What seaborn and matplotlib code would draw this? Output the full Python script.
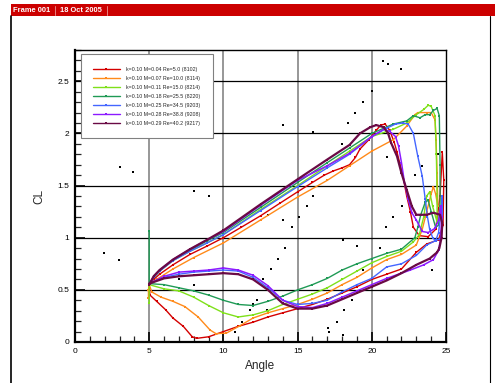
import numpy as np
import pandas as pd
import matplotlib
matplotlib.use("Agg")
import matplotlib.pyplot as plt
import seaborn as sns
from matplotlib.lines import Line2D
from matplotlib.ticker import MultipleLocator, FuncFormatter

# ---------------- data ----------------
labels = [
    "k=0.10 M=0.04 Re=5.0 (8102)",
    "k=0.10 M=0.07 Re=10.0 (8114)",
    "k=0.10 M=0.11 Re=15.0 (8214)",
    "k=0.10 M=0.18 Re=25.5 (8220)",
    "k=0.10 M=0.25 Re=34.5 (9203)",
    "k=0.10 M=0.28 Re=38.8 (9208)",
    "k=0.10 M=0.29 Re=40.2 (9217)",
]

red_angle = [5.0, 5.3, 5.7, 6.6, 7.75, 8.9, 10.0, 11.2, 12.5, 13.8, 15.0, 16.0, 16.8, 17.4, 18.0, 18.5,
             18.9, 19.2, 19.8, 20.3, 20.6, 20.9, 21.2, 21.5, 21.7, 22.1, 22.35, 22.6, 22.8, 23.2, 23.8,
             24.3, 24.6, 24.75, 24.85, 24.8, 24.5, 23.7, 23.0, 22.0, 21.0, 20.0, 19.0, 18.0, 17.0, 16.0,
             15.0, 14.0, 13.0, 12.0, 11.0, 10.0, 9.0, 8.2, 7.9, 7.3, 6.6, 6.1, 5.5, 5.05, 5.0]
red_cl = [0.55, 0.60, 0.65, 0.74, 0.84, 0.92, 1.00, 1.10, 1.21, 1.33, 1.44, 1.53, 1.60, 1.64, 1.67, 1.70,
          1.77, 1.85, 1.94, 2.03, 2.08, 2.09, 2.03, 1.92, 1.82, 1.59, 1.40, 1.25, 1.10, 1.02, 1.01,
          1.08, 1.40, 1.82, 1.55, 1.12, 0.98, 0.94, 0.86, 0.70, 0.65, 0.60, 0.53, 0.47, 0.41, 0.36,
          0.32, 0.28, 0.24, 0.19, 0.15, 0.10, 0.05, 0.035, 0.05, 0.15, 0.23, 0.31, 0.39, 0.45, 0.55]

orange_angle = [4.95, 4.95, 5.0, 5.5, 6.6, 8.0, 10.0, 12.5, 15.0, 17.0, 18.5, 20.0, 21.45, 22.35, 22.9,
                23.1, 23.7, 24.0, 24.26, 24.33, 24.4, 24.45, 24.3, 24.15, 24.0, 23.7, 23.4, 23.0, 22.0,
                21.0, 20.0, 19.0, 18.0, 17.0, 16.0, 15.0, 14.0, 13.0, 12.0, 11.1, 10.2, 9.5, 9.1, 8.3,
                7.4, 6.6, 5.8, 5.17, 5.0]
orange_cl = [0.42, 0.50, 0.55, 0.60, 0.70, 0.81, 0.95, 1.17, 1.39, 1.55, 1.69, 1.83, 1.94, 2.07, 2.18,
             2.20, 2.20, 2.20, 2.13, 1.94, 1.62, 1.30, 1.42, 1.49, 1.42, 1.25, 1.08, 0.93, 0.84,
             0.79, 0.71, 0.62, 0.55, 0.47, 0.41, 0.36, 0.32, 0.28, 0.23, 0.155, 0.085, 0.08, 0.115, 0.24,
             0.34, 0.39, 0.43, 0.48, 0.55]

lime_angle = [5.0, 5.0, 5.3, 5.7, 6.6, 7.75, 8.9, 10.0, 12.5, 15.0, 17.0, 18.5, 20.0, 21.45, 22.35, 23.0,
              23.5, 23.8, 24.0, 24.26, 24.35, 24.4, 24.4, 24.1, 23.9, 23.7, 23.5, 23.2, 22.8, 22.0, 21.0,
              20.0, 19.0, 18.0, 17.0, 16.0, 15.0, 14.0, 13.0, 12.0, 11.0, 10.0, 9.0, 8.0, 7.0, 6.0, 5.0]
lime_cl = [0.37, 0.55, 0.62, 0.68, 0.78, 0.87, 0.95, 1.03, 1.27, 1.50, 1.69, 1.83, 1.97, 2.04, 2.10, 2.18,
           2.23, 2.27, 2.26, 2.17, 1.80, 1.40, 1.15, 1.30, 1.44, 1.40, 1.20, 1.03, 0.96, 0.87, 0.82,
           0.76, 0.68, 0.60, 0.52, 0.46, 0.41, 0.36, 0.30, 0.26, 0.24, 0.28, 0.35, 0.43, 0.49, 0.51, 0.55]

green_angle = [5.0, 5.0, 5.3, 5.7, 6.6, 7.75, 8.9, 10.0, 12.5, 15.0, 17.0, 18.5, 20.0, 21.45, 22.35, 22.8,
               23.25, 23.6, 23.9, 24.15, 24.4, 24.55, 24.6, 24.6, 24.5, 24.3, 24.0, 23.8, 23.6, 23.3,
               23.1, 22.9, 22.0, 21.0, 20.0, 19.0, 18.0, 17.0, 16.0, 15.0, 14.0, 13.0, 12.0, 11.0, 10.0,
               9.0, 8.0, 7.0, 6.0, 5.0]
green_cl = [1.06, 0.56, 0.62, 0.68, 0.79, 0.88, 0.97, 1.05, 1.29, 1.53, 1.72, 1.86, 2.00, 2.09, 2.12, 2.17,
            2.15, 2.18, 2.18, 2.22, 2.24, 2.17, 1.70, 1.30, 1.12, 1.10, 1.25, 1.36, 1.34, 1.22,
            1.10, 1.00, 0.89, 0.85, 0.80, 0.75, 0.69, 0.61, 0.55, 0.50, 0.44, 0.39, 0.35, 0.36, 0.40,
            0.45, 0.49, 0.52, 0.55, 0.56]

blue_angle = [5.0, 5.3, 5.7, 6.6, 7.75, 8.9, 10.0, 12.5, 15.0, 17.0, 18.5, 20.0, 21.0, 21.6, 22.1, 22.45,
              22.8, 23.1, 23.4, 23.6, 23.75, 23.9, 24.1, 24.3, 24.5, 24.7, 24.75, 24.75, 24.6, 24.26,
              23.7, 23.0, 22.0, 21.0, 20.0, 19.0, 18.0, 17.0, 16.0, 15.0, 14.0, 13.0, 12.0, 11.0, 10.0,
              9.0, 8.0, 7.0, 6.0, 5.0]
blue_cl = [0.55, 0.62, 0.68, 0.78, 0.87, 0.95, 1.03, 1.26, 1.49, 1.67, 1.80, 1.97, 2.05, 2.09, 2.10, 2.09,
           2.00, 1.78, 1.59, 1.37, 1.20, 1.08, 1.00, 0.97, 1.05, 1.30, 1.40, 1.10, 0.99, 0.97,
           0.93, 0.83, 0.75, 0.72, 0.61, 0.55, 0.48, 0.40, 0.37, 0.36, 0.40, 0.52, 0.62, 0.68, 0.69,
           0.68, 0.67, 0.65, 0.62, 0.56]

purple_angle = [5.0, 5.3, 5.7, 6.6, 7.75, 8.9, 10.0, 12.5, 15.0, 17.0, 18.5, 20.0, 20.8, 21.2, 21.6, 21.8,
                22.0, 22.2, 22.45, 22.7, 23.0, 23.4, 23.8, 24.26, 24.5, 24.65, 24.7, 24.65, 24.5, 24.15,
                23.5, 22.6, 22.0, 21.0, 20.0, 19.0, 18.0, 17.0, 16.0, 15.0, 14.0, 13.0, 12.0, 11.0, 10.0,
                9.0, 8.0, 7.0, 6.0, 5.0]
purple_cl = [0.55, 0.63, 0.69, 0.79, 0.89, 0.98, 1.06, 1.31, 1.55, 1.69, 1.81, 1.97, 2.04, 2.02, 1.97, 1.88,
             1.72, 1.53, 1.37, 1.24, 1.17, 1.06, 1.05, 1.09, 1.17, 1.30, 1.20, 1.00, 0.88, 0.79,
             0.74, 0.69, 0.66, 0.61, 0.55, 0.49, 0.43, 0.37, 0.33, 0.34, 0.40, 0.54, 0.64, 0.69, 0.71,
             0.69, 0.68, 0.67, 0.63, 0.56]

maroon_angle = [5.0, 5.3, 5.7, 6.6, 7.75, 8.9, 10.0, 12.5, 15.0, 17.0, 18.5, 19.2, 19.9, 20.3, 20.8, 21.1,
                21.3, 21.7, 22.0, 22.35, 22.7, 23.0, 23.25, 23.7, 24.15, 24.6, 24.75, 24.7, 24.55, 24.4,
                23.9, 23.0, 22.0, 21.0, 20.0, 19.0, 18.0, 17.0, 16.0, 15.0, 14.0, 13.0, 12.0, 11.0, 10.0,
                9.0, 8.0, 7.0, 6.0, 5.0]
maroon_cl = [0.55, 0.63, 0.69, 0.79, 0.89, 0.98, 1.07, 1.32, 1.56, 1.75, 1.89, 2.00, 2.06, 2.08, 2.06, 2.00,
             1.91, 1.78, 1.62, 1.46, 1.30, 1.22, 1.22, 1.22, 1.24, 1.22, 1.14, 1.00, 0.90, 0.86,
             0.80, 0.74, 0.66, 0.59, 0.53, 0.47, 0.41, 0.35, 0.32, 0.32, 0.37, 0.50, 0.60, 0.65, 0.66,
             0.65, 0.64, 0.63, 0.61, 0.56]

dot_angle = [1.95, 3.03, 3.91, 2.96, 8.02, 9.03, 14.04, 16.02, 18.87, 18.38, 18.01, 16.06, 15.61, 15.11,
             14.04, 14.60, 13.03, 14.15, 13.70, 13.19, 12.65, 12.28, 11.97, 12.92, 18.08, 19.02, 17.63,
             17.07, 17.14, 18.04, 7.03, 8.02, 11.79, 11.23, 10.78, 19.43, 19.99, 21.0, 22.91, 23.36,
             24.48, 22.01, 21.45, 20.96, 20.55, 19.43, 18.98, 18.13, 24.04, 18.65, 20.75, 21.1, 22.0]
dot_cl = [0.85, 1.68, 1.63, 0.79, 1.45, 1.40, 2.08, 2.01, 2.20, 2.10, 1.90, 1.40, 1.30, 1.20,
          1.17, 1.10, 1.22, 0.90, 0.80, 0.70, 0.60, 0.40, 0.36, 0.31, 0.98, 0.92, 0.195,
          0.13, 0.10, 0.07, 0.60, 0.55, 0.31, 0.195, 0.10, 2.30, 2.41, 1.77, 1.60, 1.69,
          1.80, 1.30, 1.20, 1.10, 0.90, 0.69, 0.55, 0.31, 0.69, 0.40, 2.69, 2.67, 2.62]

series_angle = [red_angle, orange_angle, lime_angle, green_angle, blue_angle, purple_angle, maroon_angle]
series_cl = [red_cl, orange_cl, lime_cl, green_cl, blue_cl, purple_cl, maroon_cl]
colors = ["#d40000", "#ff8a1a", "#7fe01a", "#1f9a55", "#4466ff", "#8c1aff", "#6a0a45"]
widths = [1.0, 1.0, 1.0, 1.0, 1.0, 1.1, 1.6]

# ---------------- figure ----------------
sns.set_theme(style="white")
plt.rcParams["font.family"] = ["Liberation Sans", "DejaVu Sans"]

fig = plt.figure(figsize=(4.95, 3.83), dpi=100)
W, H = 495, 383
ax = fig.add_axes([75 / W, 1 - 342 / H, 371 / W, 292 / H])

for xv in [5, 10, 15, 20]:
    ax.axvline(xv, color="#7a7a7a", lw=1.1, zorder=0.5)
for yv in [0.5, 1.0, 1.5, 2.0, 2.5]:
    ax.axhline(yv, color="black", lw=0.9, zorder=0.5)

sns.scatterplot(x=dot_angle, y=dot_cl, ax=ax, color="black", marker="s", s=1.5, linewidth=0, zorder=1)

for a, c, col, lw in zip(series_angle, series_cl, colors, widths):
    df = pd.DataFrame({"angle": a, "cl": c})
    sns.lineplot(data=df, x="angle", y="cl", sort=False, estimator=None, ax=ax, color=col, lw=lw,
                 marker="s", markersize=1.6, markeredgewidth=0, zorder=2)

ax.set_xlim(0, 25)
ax.set_ylim(0, 2.8)
ax.xaxis.set_major_locator(MultipleLocator(5))
ax.xaxis.set_minor_locator(MultipleLocator(1))
ax.yaxis.set_major_locator(MultipleLocator(0.5))
ax.yaxis.set_minor_locator(MultipleLocator(0.1))
ax.xaxis.set_major_formatter(FuncFormatter(lambda v, p: "%g" % v))
ax.yaxis.set_major_formatter(FuncFormatter(lambda v, p: "%g" % v))
ax.tick_params(which="major", direction="in", length=7, width=1.2, labelsize=6, colors="black",
               left=True, bottom=True, top=False, right=False, pad=4)
ax.tick_params(which="minor", direction="in", length=4, width=0.9, left=True, bottom=True,
               top=False, right=False)
for side in ["left", "bottom"]:
    ax.spines[side].set_linewidth(1.6)
    ax.spines[side].set_color("black")
for side in ["top", "right"]:
    ax.spines[side].set_linewidth(1.0)
    ax.spines[side].set_color("black")

ax.set_xlabel("Angle", fontsize=8.5, labelpad=4)
ax.set_ylabel("CL", fontsize=8.5, labelpad=9)

handles = [Line2D([0], [0], color=col, lw=1.0, marker="s", markersize=1.8, markeredgewidth=0)
           for col in colors]
leg = ax.legend(handles, labels, loc="upper left", bbox_to_anchor=(0.015, 0.985), fontsize=3.8,
                frameon=True, fancybox=False, edgecolor="#808080", framealpha=1, handlelength=5.0,
                handletextpad=1.2, labelspacing=0.75, borderpad=2.4, borderaxespad=0)
leg.get_frame().set_linewidth(0.8)
leg.set_zorder(5)

# header bar and frame
fig.patches.append(plt.Rectangle((11 / W, 1 - 16 / H), 1 - 11 / W, 12 / H, transform=fig.transFigure,
                                 facecolor="#cc0000", edgecolor="none", zorder=1))
fig.text(13 / W, 1 - 10.5 / H, "Frame 001", color="white", fontsize=5.4, fontweight="bold", va="center")
fig.text(60 / W, 1 - 10.5 / H, "18 Oct 2005", color="white", fontsize=5.4, fontweight="bold", va="center")
for xs in [55, 107]:
    fig.add_artist(Line2D([xs / W, xs / W], [1 - 15 / H, 1 - 6 / H], color="#e88080", lw=0.7))
fig.add_artist(Line2D([11 / W, 11 / W], [0, 1 - 16 / H], color="black", lw=1.2))
fig.add_artist(Line2D([490 / W, 490 / W], [0, 1 - 16 / H], color="black", lw=0.8))

fig.savefig("out.png", dpi=100)
